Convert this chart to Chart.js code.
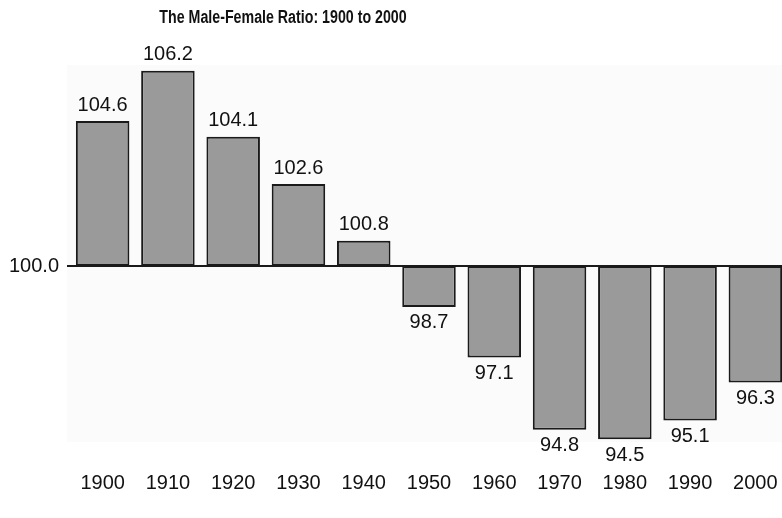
<!DOCTYPE html>
<html>
<head>
<meta charset="utf-8">
<script src="https://cdn.jsdelivr.net/npm/chart.js@4/dist/chart.umd.min.js"></script>
<style>
  html, body { margin: 0; padding: 0; background: #fff; overflow: hidden; }
  #wrap { position: relative; width: 792px; height: 518px; }
</style>
</head>
<body>
<div id="wrap"><canvas id="c" width="792" height="518"></canvas></div>
<script>
const years = ["1900", "1910", "1920", "1930", "1940", "1950", "1960", "1970", "1980", "1990", "2000"];
const ratios = [104.6, 106.2, 104.1, 102.6, 100.8, 98.7, 97.1, 94.8, 94.5, 95.1, 96.3];
const baseline = 100;
const titleText = "The Male-Female Ratio: 1900 to 2000";

const FONT = "'Liberation Sans', Arial, Helvetica, sans-serif";

const panelPlugin = {
  id: 'panel',
  beforeDraw(chart) {
    const ctx = chart.ctx;
    const a = chart.chartArea;
    ctx.save();
    ctx.fillStyle = '#fbfbfb';
    ctx.fillRect(a.left - 3, 65, chart.width - a.left + 3, 442 - 65);
    ctx.restore();
  }
};

const titlePlugin = {
  id: 'customTitle',
  afterDraw(chart) {
    const ctx = chart.ctx;
    ctx.save();
    ctx.font = "bold 18px 'Liberation Sans', Arial, sans-serif";
    ctx.fillStyle = '#111';
    ctx.textAlign = 'center';
    ctx.textBaseline = 'middle';
    ctx.translate(283, 18);
    ctx.scale(0.79, 1);
    ctx.fillText(titleText, 0, 0);
    ctx.restore();
  }
};

const labelPlugin = {
  id: 'valueLabels',
  afterDatasetsDraw(chart) {
    const ctx = chart.ctx;
    const meta = chart.getDatasetMeta(0);
    const ys = chart.scales.y;
    ctx.save();
    ctx.font = "20px " + FONT;
    ctx.fillStyle = '#111';
    ctx.textAlign = 'center';
    ctx.textBaseline = 'middle';
    meta.data.forEach((bar, i) => {
      const v = ratios[i];
      const py = ys.getPixelForValue(v);
      const y = v >= baseline ? py - 16 : py + 16;
      ctx.fillText(v.toFixed(1), bar.x, y);
    });
    ctx.restore();
  }
};

new Chart(document.getElementById('c'), {
  type: 'bar',
  data: {
    labels: years,
    datasets: [{
      data: ratios.map(v => [baseline, v]),
      backgroundColor: '#9a9a9a',
      borderColor: '#1a1a1a',
      borderWidth: 2,
      borderSkipped: false,
      categoryPercentage: 1,
      barPercentage: 0.82
    }]
  },
  options: {
    responsive: false,
    animation: false,
    devicePixelRatio: 1,
    layout: { padding: { top: 30, right: 4, left: 0, bottom: 0 } },
    plugins: {
      legend: { display: false },
      tooltip: { enabled: false },
      title: { display: false }
    },
    scales: {
      x: {
        grid: { display: false, drawTicks: false },
        border: { display: false },
        ticks: { color: '#111', font: { size: 20, family: FONT }, padding: 9, maxRotation: 0 },
        afterFit(s) { s.height = 56; }
      },
      y: {
        min: 93.78,
        max: 107.49,
        afterBuildTicks(s) { s.ticks = [{ value: baseline }]; },
        grid: {
          color: '#1a1a1a',
          lineWidth: 2,
          tickLength: 3,
          drawOnChartArea: true
        },
        border: { display: false },
        ticks: {
          color: '#111',
          font: { size: 20, family: FONT },
          padding: 8,
          callback: v => Number(v).toFixed(1)
        },
        afterFit(s) { s.width = 70; }
      }
    }
  },
  plugins: [panelPlugin, labelPlugin, titlePlugin]
});
</script>
</body>
</html>
